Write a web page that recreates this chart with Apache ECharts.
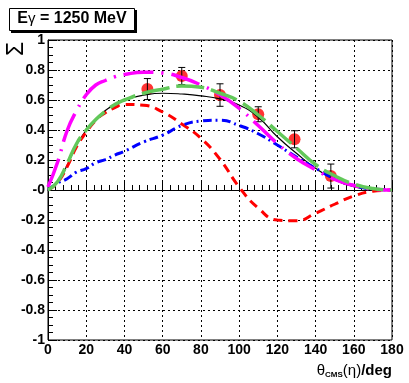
<!DOCTYPE html>
<html>
<head>
<meta charset="utf-8">
<script src="https://cdn.jsdelivr.net/npm/echarts@6/dist/echarts.min.js"></script>
<style>
  html, body { margin: 0; padding: 0; background: #fff; }
  #main { width: 409px; height: 383px; }
</style>
</head>
<body>
<div id="main"></div>
<script>
var angles = [0, 5, 10, 15, 20, 25, 30, 35, 40, 50, 60, 70, 80, 90, 100, 110, 120, 130, 140, 150, 160, 170, 180];

// model curves
var curveBlack   = [0, 0.05, 0.165, 0.30, 0.40, 0.47, 0.53, 0.57, 0.60, 0.632, 0.645, 0.64, 0.628, 0.607, 0.567, 0.485, 0.355, 0.245, 0.145, 0.068, 0.022, 0.004, 0];
var curveRed     = [0, 0.05, 0.155, 0.29, 0.385, 0.465, 0.515, 0.55, 0.57, 0.565, 0.52, 0.44, 0.345, 0.205, 0.02, -0.12, -0.20, -0.205, -0.155, -0.095, -0.04, -0.008, 0];
var curveBlue    = [0, 0.045, 0.075, 0.12, 0.143, 0.182, 0.203, 0.233, 0.258, 0.32, 0.366, 0.43, 0.46, 0.465, 0.43, 0.375, 0.30, 0.22, 0.145, 0.075, 0.03, 0.007, 0];
var curveMagenta = [0.02, 0.185, 0.395, 0.53, 0.635, 0.70, 0.73, 0.755, 0.77, 0.785, 0.78, 0.75, 0.70, 0.635, 0.545, 0.43, 0.31, 0.21, 0.135, 0.07, 0.03, 0.006, 0];
var curveGreen   = [0, 0.055, 0.175, 0.31, 0.40, 0.47, 0.525, 0.57, 0.60, 0.645, 0.672, 0.693, 0.685, 0.645, 0.592, 0.50, 0.39, 0.28, 0.17, 0.095, 0.04, 0.01, 0];

// measured points
var dataAngle = [52, 70, 90, 110, 129, 148];
var dataSigma = [0.673, 0.76, 0.633, 0.505, 0.338, 0.093];
var dataError = [0.07, 0.057, 0.075, 0.05, 0.057, 0.08];

var xTicks = [0, 20, 40, 60, 80, 100, 120, 140, 160, 180];
var yTicks = [-1, -0.8, -0.6, -0.4, -0.2, 0, 0.2, 0.4, 0.6, 0.8, 1];

var font = '"Liberation Sans", Arial, sans-serif';

function pairs(ys) {
    return angles.map(function (a, i) { return [a, ys[i]]; });
}

function curve(name, ys, color, width, dash) {
    return {
        name: name,
        type: 'line',
        data: pairs(ys),
        smooth: true,
        showSymbol: false,
        silent: true,
        lineStyle: { color: color, width: width, type: dash },
        z: 5
    };
}

var myChart = echarts.init(document.getElementById('main'));

var option = {
    animation: false,
    backgroundColor: '#fff',
    grid: {
        left: 48, right: 17, top: 40, bottom: 43,
        show: true, borderColor: '#000', borderWidth: 1
    },
    xAxis: {
        type: 'value',
        min: xTicks[0], max: xTicks[xTicks.length - 1], interval: 20,
        axisLine: { lineStyle: { color: '#000', width: 1 } },
        axisTick: { inside: true, length: 9, lineStyle: { color: '#000' } },
        minorTick: { show: true, splitNumber: 5, length: 5, lineStyle: { color: '#000' } },
        splitLine: { show: true, lineStyle: { color: '#000', type: [2, 3], width: 1 } },
        axisLabel: { color: '#000', fontFamily: font, fontWeight: 'bold', fontSize: 14, margin: 3 }
    },
    yAxis: {
        type: 'value',
        min: yTicks[0], max: yTicks[yTicks.length - 1], interval: 0.2,
        axisLine: { show: true, lineStyle: { color: '#000', width: 1 } },
        axisTick: { show: true, inside: true, length: 9, lineStyle: { color: '#000' } },
        minorTick: { show: true, splitNumber: 4, length: 5, lineStyle: { color: '#000' } },
        splitLine: { show: true, lineStyle: { color: '#000', type: [2, 3], width: 1 } },
        axisLabel: {
            color: '#000', fontFamily: font, fontWeight: 'bold', fontSize: 14, margin: 3,
            formatter: function (v) {
                if (Math.abs(v) < 1e-9) return '-0';
                if (Math.abs(v - Math.round(v)) < 1e-9) return String(Math.round(v));
                return v.toFixed(1);
            }
        }
    },
    graphic: [
        // title box with shadow
        { type: 'rect', left: 11, top: 10, shape: { width: 126, height: 23 }, style: { fill: '#000' }, z: 10 },
        { type: 'rect', left: 9, top: 8, shape: { width: 125, height: 22 }, style: { fill: '#fff', stroke: '#000', lineWidth: 1 }, z: 11 },
        {
            type: 'text', x: 72, y: 19, z: 12,
            style: {
                text: '{e|E}{g|\u03b3}{e| = 1250 MeV}', align: 'center', verticalAlign: 'middle',
                rich: {
                    e: { fontFamily: font, fontSize: 16, fontWeight: 'bold', fill: '#000' },
                    g: { fontFamily: font, fontSize: 15, fill: '#000' }
                }
            }
        },
        // y title
        {
            type: 'group', x: 17, y: 49, rotation: Math.PI / 2, z: 12,
            children: [{
                type: 'text', x: 0, y: 0,
                style: {
                    text: '\u03a3', fill: '#000', align: 'center', verticalAlign: 'middle',
                    font: '23px ' + font
                }
            }]
        },
        // x title
        {
            type: 'text', x: 392, y: 371, z: 12,
            style: {
                text: '{a|\u03b8}{s|CMS}{a|(\u03b7)}{b|/deg}',
                align: 'right', verticalAlign: 'middle',
                rich: {
                    a: { fontFamily: font, fontSize: 15, fill: '#000' },
                    s: { fontFamily: font, fontSize: 8, fontWeight: 'bold', fill: '#000', padding: [8, 0, 0, 0] },
                    b: { fontFamily: font, fontSize: 15, fontWeight: 'bold', fill: '#000' }
                }
            }
        }
    ],
    series: [
        {
            name: 'data',
            type: 'scatter',
            data: dataAngle.map(function (a, i) { return [a, dataSigma[i]]; }),
            symbol: 'circle',
            symbolSize: 12,
            itemStyle: { color: '#ff0000' },
            z: 2
        },
        {
            name: 'errors',
            type: 'custom',
            data: dataAngle.map(function (a, i) { return [a, dataSigma[i], dataError[i]]; }),
            renderItem: function (params, api) {
                var x = api.value(0), y = api.value(1), e = api.value(2);
                var top = api.coord([x, y + e]);
                var bot = api.coord([x, y - e]);
                var st = { stroke: '#000', lineWidth: 1 };
                return {
                    type: 'group',
                    children: [
                        { type: 'line', shape: { x1: top[0], y1: top[1], x2: bot[0], y2: bot[1] }, style: st },
                        { type: 'line', shape: { x1: top[0] - 3.5, y1: top[1], x2: top[0] + 3.5, y2: top[1] }, style: st },
                        { type: 'line', shape: { x1: bot[0] - 3.5, y1: bot[1], x2: bot[0] + 3.5, y2: bot[1] }, style: st }
                    ]
                };
            },
            z: 3
        },
        curve('black', curveBlack, '#000000', 1.2, 'solid'),
        curve('red', curveRed, '#ff0000', 3, [9, 6]),
        curve('blue', curveBlue, '#0000ff', 3, [9, 4, 2, 4]),
        curve('magenta', curveMagenta, '#ff00ff', 3.5, [30, 8, 2, 8]),
        curve('green', curveGreen, '#62c85a', 3.5, [28, 7])
    ]
};
myChart.setOption(option);
</script>
</body>
</html>
